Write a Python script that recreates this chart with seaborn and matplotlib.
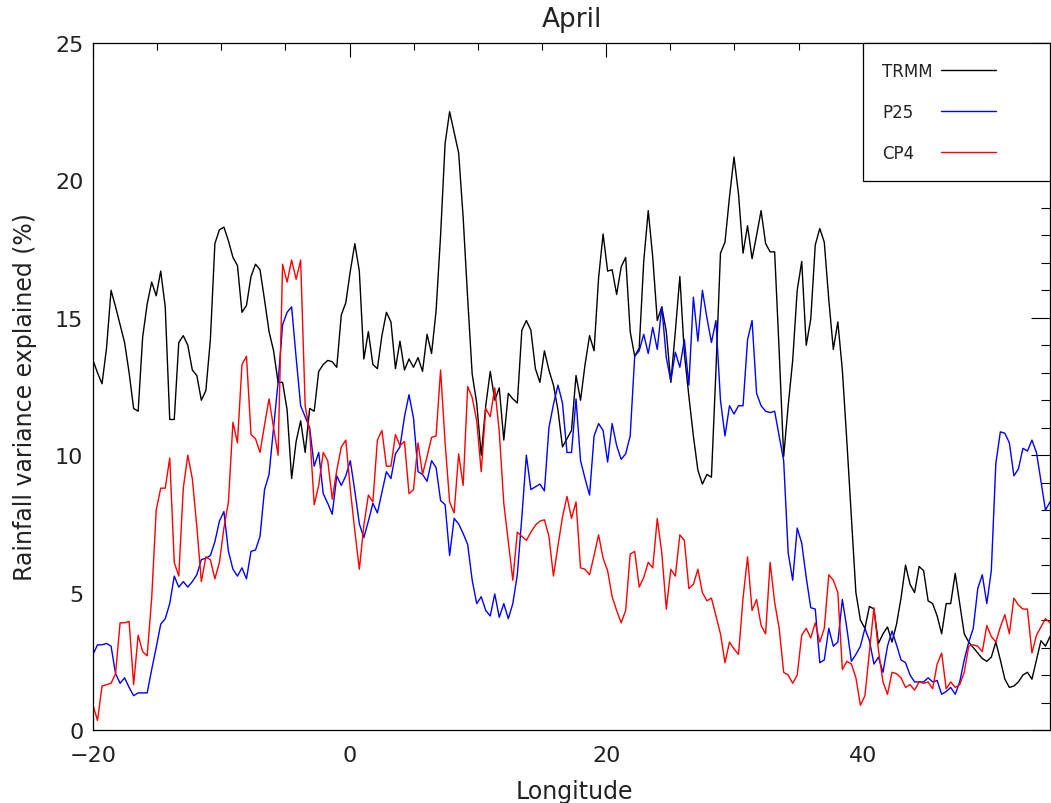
import numpy as np
import pandas as pd
import matplotlib
matplotlib.use("Agg")
import matplotlib.pyplot as plt
from matplotlib.ticker import MultipleLocator
import seaborn as sns

# ---------------- data ----------------
TITLE = "April"
X_LABEL = "Longitude"
Y_LABEL = "Rainfall variance explained (%)"
LON_START, LON_END = -20.0, 54.6
SERIES = ["TRMM", "P25", "CP4"]
COLORS = {"TRMM": "#000000", "P25": "#0000ff", "CP4": "#ff0000"}

trmm = [
    13.45, 13.0, 12.6, 13.9, 16.0, 15.4, 14.75, 14.1, 13.0, 11.7,
    11.6, 14.3, 15.5, 16.3, 15.8, 16.7, 15.4, 11.3, 11.3, 14.1,
    14.35, 14.0, 13.1, 12.9, 12.0, 12.35, 14.2, 17.7, 18.2, 18.3,
    17.8, 17.2, 16.9, 15.2, 15.45, 16.5, 16.95,
    16.75, 15.65, 14.5, 13.8, 12.65, 12.65, 11.65, 9.15, 10.5, 11.25,
    10.1, 11.7, 11.6, 13.05, 13.3, 13.45, 13.4, 13.2, 15.1, 15.55,
    16.7, 17.7, 16.7, 13.5, 14.5, 13.3, 13.15, 14.35, 15.2, 14.85,
    13.15, 14.15, 13.1, 13.5, 13.2, 13.55,
    13.05, 14.4, 13.7, 15.25, 18.0, 21.35, 22.5, 21.75, 21.0, 18.65,
    15.7, 12.95, 11.9, 10.0, 11.8, 13.05, 12.0, 12.45, 10.55, 12.25,
    12.05, 11.9, 14.55, 14.9, 14.55, 13.15, 12.65, 13.8, 13.1, 12.55,
    11.65, 10.3, 10.6, 10.9, 12.9,
    12.0, 13.3, 14.35, 13.8, 16.45, 18.05, 16.7, 16.75, 15.85, 16.85,
    17.2, 14.5, 13.6, 13.9, 17.05, 18.9, 17.2, 14.9, 15.4, 14.5,
    12.65, 14.5, 16.5, 13.7, 12.15, 10.7, 9.45, 8.95, 9.3, 9.2,
    13.1, 17.35, 17.75, 19.4, 20.85, 19.5,
    17.35, 18.35, 17.15, 18.0, 18.9, 17.7, 17.4, 17.4, 13.8, 9.95,
    11.8, 13.45, 16.0, 17.05, 14.0, 14.95, 17.65, 18.25, 17.75, 15.65,
    13.85, 14.85, 13.1, 10.5, 7.75, 5.0, 4.0, 3.7, 4.5, 4.4,
    3.15, 3.5, 3.75, 3.2, 3.85,
    4.8, 6.0, 5.3, 5.0, 5.95, 5.8, 4.7, 4.6, 4.15, 3.5,
    4.6, 4.6, 5.7, 4.6, 3.5, 3.2, 3.0, 2.8, 2.6, 2.5,
    2.65, 3.2, 2.55, 1.85, 1.55, 1.6, 1.75, 2.0, 2.1, 1.85,
    2.55, 3.25, 3.05, 3.4,
]

p25 = [
    2.75, 3.1, 3.1, 3.15, 3.05, 2.05, 1.7, 1.9, 1.55, 1.25,
    1.35, 1.35, 1.35, 2.2, 3.0, 3.85, 4.05, 4.6, 5.6, 5.2,
    5.4, 5.2, 5.4, 5.65, 6.2, 6.25, 6.35, 6.85, 7.6, 7.95,
    6.5, 5.85, 5.6, 5.9, 5.5, 6.5, 6.55,
    7.05, 8.75, 9.3, 11.0, 12.65, 14.75, 15.2, 15.4, 13.55, 11.8,
    11.4, 11.0, 9.6, 10.1, 8.6, 8.25, 7.85, 9.25, 8.9, 9.25,
    9.8, 8.7, 7.5, 7.0, 7.6, 8.25, 7.9, 8.65, 9.4, 9.15,
    10.05, 10.3, 11.4, 12.2, 11.35, 9.4,
    9.3, 9.05, 9.8, 9.55, 8.35, 8.2, 6.35, 7.7, 7.5, 7.15,
    6.75, 5.45, 4.6, 4.85, 4.35, 4.15, 4.95, 4.1, 4.6, 4.05,
    4.6, 5.65, 7.75, 10.0, 8.75, 8.85, 8.95, 8.7, 11.0, 11.85,
    12.55, 11.9, 10.1, 10.1, 12.05,
    9.8, 9.15, 8.55, 10.7, 11.15, 10.9, 9.75, 11.15, 10.35, 9.85,
    10.05, 10.7, 13.6, 13.8, 14.4, 13.7, 14.65, 13.85, 15.4, 13.55,
    12.7, 13.75, 13.2, 14.2, 12.55, 15.75, 14.15, 16.0, 15.0, 14.1,
    14.9, 12.0, 10.7, 11.8, 11.5, 11.8,
    11.8, 14.2, 14.9, 12.25, 11.8, 11.6, 11.55, 11.6, 10.7, 9.8,
    6.45, 5.45, 7.35, 6.8, 5.55, 4.45, 4.4, 2.45, 2.55, 3.7,
    3.05, 3.2, 4.75, 3.7, 2.5, 2.75, 3.05, 3.7, 3.25, 2.4,
    2.65, 2.1, 3.05, 3.6, 3.1,
    2.55, 2.45, 2.0, 1.75, 1.75, 1.75, 1.9, 1.75, 1.8, 1.3,
    1.4, 1.55, 1.3, 1.75, 2.55, 3.2, 3.7, 5.15, 5.65, 4.6,
    5.8, 9.7, 10.85, 10.8, 10.45, 9.25, 9.5, 10.25, 10.15, 10.55,
    10.1, 9.05, 8.0, 8.3,
]

cp4 = [
    0.9, 0.35, 1.6, 1.65, 1.7, 2.05, 3.9, 3.9, 3.95, 1.65,
    3.45, 2.85, 2.7, 4.8, 8.0, 8.8, 8.8, 9.9, 6.1, 5.6,
    8.8, 10.0, 9.15, 7.4, 5.4, 6.3, 6.2, 5.5, 6.1, 7.35,
    8.3, 11.2, 10.45, 13.3, 13.6, 10.75, 10.6,
    10.1, 11.1, 12.05, 11.0, 10.0, 16.95, 16.3, 17.1, 16.4, 17.1,
    11.8, 10.85, 8.2, 8.9, 10.1, 9.8, 8.4, 9.45, 10.3, 10.55,
    8.75, 7.25, 5.85, 7.45, 8.55, 8.3, 10.55, 10.9, 9.6, 9.6,
    10.75, 10.35, 10.5, 8.6, 8.75, 10.45,
    9.3, 9.95, 10.65, 10.7, 13.1, 10.45, 8.3, 7.9, 10.05, 8.9,
    12.5, 12.1, 11.25, 9.4, 11.7, 11.4, 12.45, 10.85, 8.25, 6.85,
    5.45, 7.2, 7.05, 6.9, 7.2, 7.45, 7.6, 7.65, 7.05, 5.6,
    6.7, 7.75, 8.5, 7.7, 8.3,
    5.9, 5.85, 5.65, 6.35, 7.1, 6.25, 5.8, 4.85, 4.35, 3.9,
    4.35, 6.4, 6.5, 5.2, 5.55, 6.1, 5.9, 7.7, 6.45, 4.4,
    5.85, 5.6, 7.1, 6.9, 5.15, 5.3, 5.85, 5.0, 4.7, 4.8,
    4.15, 3.5, 2.45, 3.2, 2.95, 2.75,
    4.8, 6.3, 4.35, 4.75, 3.8, 3.5, 6.1, 4.65, 3.7, 2.1,
    2.0, 1.7, 2.0, 3.45, 3.7, 3.35, 3.9, 3.2, 3.7, 5.65,
    5.45, 5.0, 2.2, 2.5, 2.4, 1.9, 0.9, 1.25, 2.85, 4.45,
    2.9, 1.75, 1.3, 2.1, 2.05,
    1.9, 1.55, 1.65, 1.45, 1.75, 1.7, 1.75, 1.5, 2.4, 2.8,
    1.5, 1.75, 1.55, 1.65, 2.1, 3.05, 3.1, 3.05, 2.85, 3.8,
    3.4, 3.2, 3.75, 4.2, 3.5, 4.8, 4.55, 4.4, 4.4, 2.8,
    3.45, 3.75, 4.05, 3.9,
]

X_MAJOR, X_MINOR = 20, 5
Y_MAJOR, Y_MINOR = 5, 1
Y_LIM = (0, 25)

# ---------------- build table ----------------
values = {"TRMM": trmm, "P25": p25, "CP4": cp4}
frames = []
for name in SERIES:
    vals = values[name]
    lon = np.linspace(LON_START, LON_END, len(vals))
    frames.append(pd.DataFrame({"lon": lon, "val": vals, "series": name}))
df = pd.concat(frames, ignore_index=True)

# ---------------- style ----------------
sns.set_theme(style="white")
plt.rcParams["font.family"] = ["DejaVu Sans"]
plt.rcParams["axes.unicode_minus"] = True

fig = plt.figure(figsize=(10.51, 8.04), dpi=100)
ax = fig.add_axes([93 / 1051, 1 - 731 / 804, 957 / 1051, 687 / 804])

sns.lineplot(data=df, x="lon", y="val", hue="series", hue_order=SERIES,
             palette=COLORS, linewidth=1.0, estimator=None, sort=False,
             ax=ax, legend=True)

ax.set_xlim(LON_START, LON_END)
ax.set_ylim(*Y_LIM)
ax.xaxis.set_major_locator(MultipleLocator(X_MAJOR))
ax.xaxis.set_minor_locator(MultipleLocator(X_MINOR))
ax.yaxis.set_major_locator(MultipleLocator(Y_MAJOR))
ax.yaxis.set_minor_locator(MultipleLocator(Y_MINOR))

for s in ax.spines.values():
    s.set_visible(True)
    s.set_color("black")
    s.set_linewidth(0.9)

ax.tick_params(which="both", direction="in", top=True, right=True,
               color="black", width=0.8)
ax.xaxis.set_tick_params(which="major", length=10, pad=11, labelsize=16)
ax.xaxis.set_tick_params(which="minor", length=5)
ax.yaxis.set_tick_params(which="major", length=13.7, pad=7, labelsize=16)
ax.yaxis.set_tick_params(which="minor", length=6.8)
for lab in ax.get_xticklabels() + ax.get_yticklabels():
    lab.set_color("#222222")

ax.set_title(TITLE, fontsize=19, pad=12, color="#222222")
ax.set_xlabel(X_LABEL, fontsize=17, color="#222222")
ax.set_ylabel(Y_LABEL, fontsize=17, color="#222222")
ax.xaxis.set_label_coords(0.5026, -0.072)
ax.yaxis.set_label_coords(-0.059, 0.486)

handles, labels = ax.get_legend_handles_labels()
leg = ax.legend(handles, labels, loc="upper left",
                bbox_to_anchor=(0.8046, 0.0, 1 - 0.8046, 1.0), mode="expand",
                borderaxespad=0.0, markerfirst=False, fancybox=False,
                frameon=True, fontsize=12, borderpad=1.15, labelspacing=1.38,
                handlelength=3.3, handletextpad=0.5, framealpha=1.0)
leg.get_frame().set_edgecolor("black")
leg.get_frame().set_linewidth(0.9)
for t in leg.get_texts():
    t.set_color("#222222")

# left-align the legend texts while keeping the line samples aligned
try:
    fig.canvas.draw()
    renderer = fig.canvas.get_renderer()
    col = leg._legend_handle_box.get_children()[0]
    items = col.get_children()
    wmax = max(it.get_bbox(renderer).width for it in items)
    for it in items:
        it.mode = "expand"
        it.width = wmax
except Exception:
    pass

fig.savefig("out.png", dpi=100)
